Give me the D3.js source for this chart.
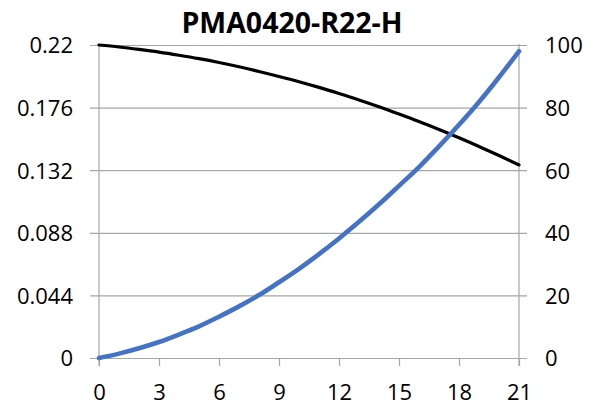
<html>
<head>
	<meta charset="UTF-8">
	<title>PMA0420-R22-H</title>
	<script src="https://cdn.jsdelivr.net/npm/d3@7"></script>
	<style>
		body {
			padding: 0;
			margin: 0;
			background: #fff;
		}
	</style>
</head>
<body>
	<script>
		// values
		var xValues = [0, 1, 2, 3, 4, 5, 6, 7, 8, 9, 10, 11, 12, 13, 14, 15, 16, 17, 18, 19, 20, 21];
		// black line, left axis
		var leftSeries = [0.220, 0.2186, 0.2169, 0.2150, 0.2128, 0.2104, 0.2077, 0.2047, 0.2014, 0.1979, 0.1942,
			0.1902, 0.1859, 0.1814, 0.1766, 0.1715, 0.1662, 0.1606, 0.1548, 0.1487, 0.1423, 0.1357];
		// blue line, right axis
		var rightSeries = [0, 1.4, 3.1, 5.1, 7.5, 10.1, 13.2, 16.5, 20.1, 24.2, 28.5,
			33.2, 38.2, 43.5, 49.1, 55.0, 61.0, 67.6, 74.5, 81.8, 89.7, 98.0];
		var xTicks = [0, 3, 6, 9, 12, 15, 18, 21];
		var leftTicks = [0, 0.044, 0.088, 0.132, 0.176, 0.22];
		var rightTicks = [0, 20, 40, 60, 80, 100];
		var title = "PMA0420-R22-H";

		// note: "top" is taken by window.top, so plot edges get their own names
		var w = 599,
			h = 409,
			plotLeft = 99,
			plotRight = 519,
			plotTop = 45,
			plotBottom = 358;
		var gridColor = "#a6a6a6",
			font = "'Open Sans', sans-serif",
			labelSize = 22;

		var x = d3.scaleLinear().domain([0, 21]).range([plotLeft, plotRight]);
		var yL = d3.scaleLinear().domain([0, 0.22]).range([plotBottom, plotTop]);
		var yR = d3.scaleLinear().domain([0, 100]).range([plotBottom, plotTop]);

		var svg = d3.select("body").append("svg")
			.attr("width", w)
			.attr("height", h);

		// left axis, ticks stretched across as gridlines
		var gLeft = svg.append("g")
			.attr("transform", "translate(90,0)")
			.call(d3.axisLeft(yL).tickValues(leftTicks).tickSize(-(527 - 90)).tickPadding(17)
				.tickFormat(function(d) { return String(+d.toFixed(3)); }));
		gLeft.select(".domain").remove();
		gLeft.selectAll("line").attr("stroke", gridColor).attr("stroke-width", 1.2);
		gLeft.selectAll("text")
			.attr("font-family", font).attr("font-size", labelSize).attr("fill", "#000")
			.attr("dy", "0.36em");

		// right axis
		var gRight = svg.append("g")
			.attr("transform", "translate(" + plotRight + ",0)")
			.call(d3.axisRight(yR).tickValues(rightTicks).tickSize(0).tickPadding(26));
		gRight.select(".domain").remove();
		gRight.selectAll("text")
			.attr("font-family", font).attr("font-size", labelSize).attr("fill", "#000")
			.attr("dy", "0.36em");

		// vertical axis lines
		[plotLeft, plotRight].forEach(function(px) {
			svg.append("line")
				.attr("x1", px).attr("x2", px)
				.attr("y1", plotTop - 1).attr("y2", plotBottom + 8)
				.attr("stroke", gridColor).attr("stroke-width", 1.2);
		});

		// bottom axis
		var gBottom = svg.append("g")
			.attr("transform", "translate(0," + plotBottom + ")")
			.call(d3.axisBottom(x).tickValues(xTicks).tickSize(8).tickPadding(18));
		gBottom.select(".domain").remove();
		gBottom.selectAll("line").attr("stroke", gridColor).attr("stroke-width", 1.2);
		gBottom.selectAll("text")
			.attr("font-family", font).attr("font-size", labelSize).attr("fill", "#000");

		// lines
		var lineL = d3.line()
			.x(function(d, i) { return x(xValues[i]); })
			.y(function(d) { return yL(d); })
			.curve(d3.curveMonotoneX);
		var lineR = d3.line()
			.x(function(d, i) { return x(xValues[i]); })
			.y(function(d) { return yR(d); })
			.curve(d3.curveMonotoneX);

		svg.append("path")
			.datum(leftSeries)
			.attr("d", lineL)
			.attr("fill", "none")
			.attr("stroke", "#000")
			.attr("stroke-width", 3.2)
			.attr("stroke-linecap", "round");

		svg.append("path")
			.datum(rightSeries)
			.attr("d", lineR)
			.attr("fill", "none")
			.attr("stroke", "#4472c4")
			.attr("stroke-width", 4.6)
			.attr("stroke-linecap", "round");

		// title
		svg.append("text")
			.attr("x", 292)
			.attr("y", 33)
			.attr("text-anchor", "middle")
			.attr("font-family", font)
			.attr("font-weight", "bold")
			.attr("font-size", 28.5)
			.text(title);
	</script>
</body>
</html>
